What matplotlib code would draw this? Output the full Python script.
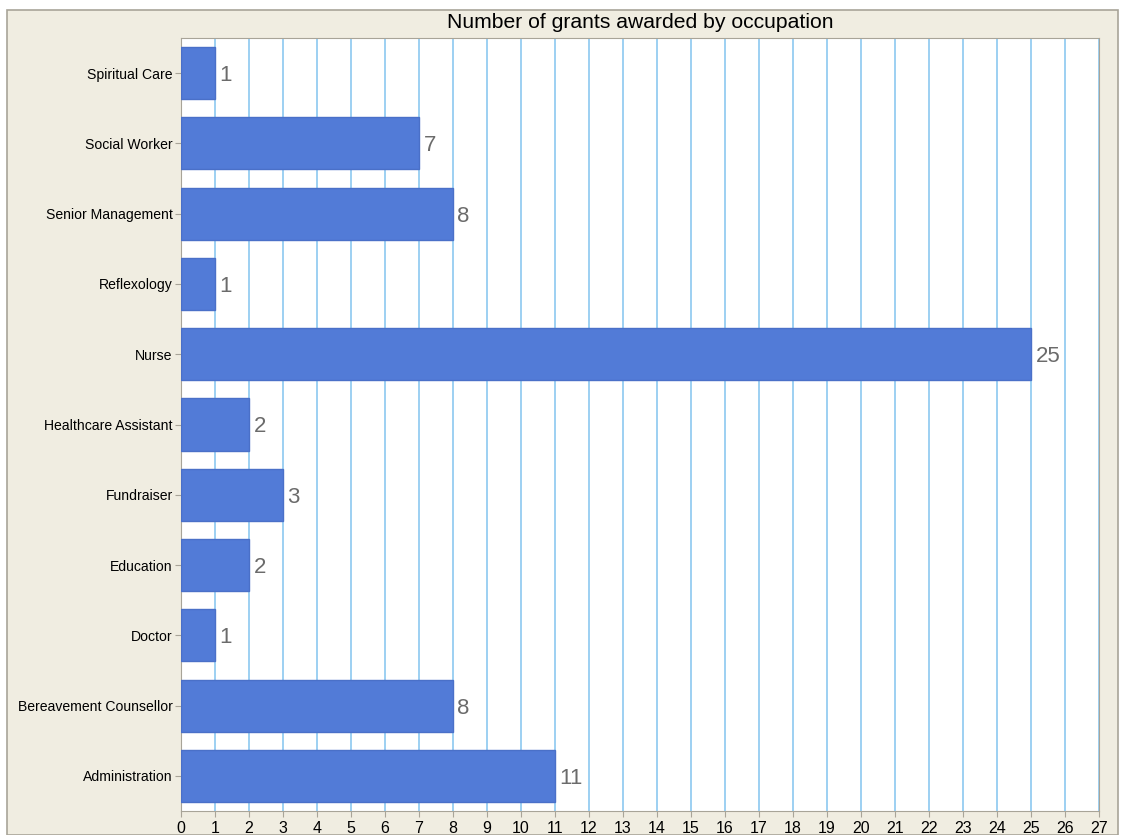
import numpy as np
import matplotlib.pyplot as plt
from matplotlib.patches import Rectangle

# Данные
occupations = ['Administration', 'Bereavement Counsellor', 'Doctor', 'Education',
               'Fundraiser', 'Healthcare Assistant', 'Nurse', 'Reflexology',
               'Senior Management', 'Social Worker', 'Spiritual Care']
grants = [11, 8, 1, 2, 3, 2, 25, 1, 8, 7, 1]
x_ticks = list(range(0, 28))

plt.rcParams['font.family'] = ['Liberation Sans', 'DejaVu Sans']

bg = '#f0ede1'
fig = plt.figure(figsize=(11.23, 8.35), dpi=100, facecolor='white')
fig.patches.append(Rectangle((7 / 1123, 0), 1111 / 1123, 825 / 835,
                             transform=fig.transFigure, facecolor=bg,
                             edgecolor='#a8a498', linewidth=1.2, zorder=-5))

ax = fig.add_axes([181 / 1123, 1 - 811 / 835, 918 / 1123, 773 / 835])
ax.set_facecolor('white')

y = np.arange(len(occupations))
ax.barh(y, grants, height=0.74, color='#527bd7', edgecolor='#4a70c8',
        linewidth=1, zorder=3)

for yi, v in zip(y, grants):
    ax.text(v + 0.13, yi, str(v), va='center_baseline', ha='left', fontsize=16,
            color='#6b6b6b', zorder=4)

ax.set_xlim(0, 27)
ax.set_ylim(-0.5, len(occupations) - 0.5)
ax.set_xticks(x_ticks)
ax.set_yticks(y)
ax.set_yticklabels(occupations)
ax.tick_params(axis='x', length=4, color='#a8a498', labelsize=11.5, pad=3)
ax.tick_params(axis='y', length=4, color='#a8a498', labelsize=10.1, pad=2)
ax.grid(axis='x', color='#8cc8f0', linewidth=1.2, zorder=1)
ax.set_axisbelow(True)
for s in ax.spines.values():
    s.set_color('#a8a498')

fig.text(640 / 1123, 1 - 22 / 835, 'Number of grants awarded by occupation',
         ha='center', va='center', fontsize=15.2)

fig.savefig('out.png', dpi=100, facecolor=fig.get_facecolor())
